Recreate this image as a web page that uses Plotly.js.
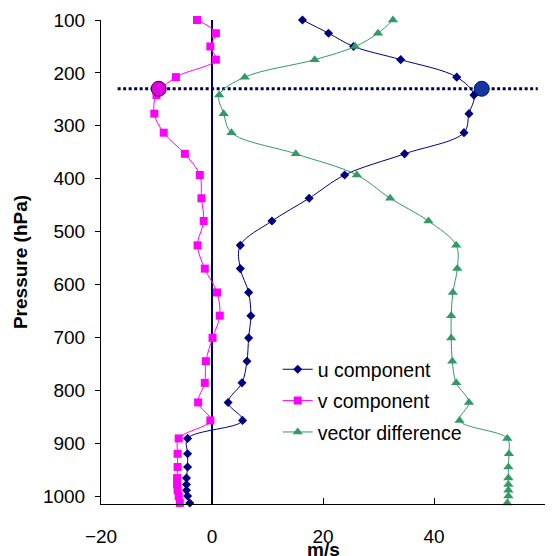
<!DOCTYPE html>
<html>
<head>
<meta charset="utf-8">
<script src="https://cdn.plot.ly/plotly-3.0.1.min.js"></script>
<style>html,body{margin:0;padding:0;background:#fff;}#chart{width:555px;height:556px;}</style>
</head>
<body>
<div id="chart"></div>
<script>
// Pressure levels (hPa)
var pressure = [100, 125, 150, 175, 208, 242, 277, 313, 353, 393, 437, 480, 526, 570, 615, 659, 701, 745, 786, 823, 857, 891, 920, 945, 966, 978, 989, 1000, 1013];
// u component (m/s)
var uComp = [16.3, 21.0, 25.5, 34.0, 44.1, 47.2, 46.3, 45.4, 34.7, 23.9, 17.5, 10.8, 5.1, 5.1, 6.6, 7.0, 6.6, 6.3, 5.4, 2.9, 5.5, -4.4, -4.4, -4.4, -4.6, -4.6, -4.6, -4.4, -4.0];
// v component (m/s)
var vComp = [-2.7, 0.7, -0.3, 0.7, -6.5, -10.0, -10.4, -8.7, -4.9, -2.2, -1.9, -1.5, -2.6, -1.3, 0.9, 1.4, 0.1, -1.1, -1.3, -2.5, -0.3, -6.0, -6.2, -6.2, -6.3, -6.3, -6.2, -6.0, -5.8];
// vector difference (m/s)
var vecDiff = [32.6, 29.9, 25.8, 18.5, 5.9, 1.3, 2.1, 3.5, 15.1, 26.1, 32.1, 39.0, 44.0, 44.2, 43.4, 43.1, 43.1, 43.3, 44.0, 46.3, 44.6, 53.2, 53.5, 53.4, 53.4, 53.4, 53.4, 53.4, 53.2];
// jet level markers
var jetP = [230];
var jetU = [48.6];
var jetV = [-9.6];
// reference lines
var jetLineX = [-17, 58.7];
var xTicks = [-20, 0, 20, 40, 60];
var yTicks = [100, 200, 300, 400, 500, 600, 700, 800, 900, 1000];

var FONT = 'Liberation Sans, Arial, sans-serif';

var traces = [
  {x: uComp, y: pressure, name: 'u component', mode: 'lines+markers', legendgroup: 'a',
   line: {color: '#000080', width: 1, shape: 'spline', smoothing: 1},
   marker: {symbol: 'diamond', size: 7, color: '#000080'}, cliponaxis: false},
  {x: vComp, y: pressure, name: 'v component', mode: 'lines+markers', legendgroup: 'b',
   line: {color: '#FF00FF', width: 1, shape: 'spline', smoothing: 1},
   marker: {symbol: 'square', size: 8, color: '#FF00FF'}, cliponaxis: false},
  {x: vecDiff, y: pressure, name: 'vector difference', mode: 'lines+markers', legendgroup: 'c',
   line: {color: '#339966', width: 1, shape: 'spline', smoothing: 1},
   marker: {symbol: 'triangle-up', size: 9, color: '#339966'}, cliponaxis: false},
  {x: jetV, y: jetP, mode: 'markers', showlegend: false, cliponaxis: false,
   marker: {symbol: 'circle', size: 15, color: '#E000E0', line: {color: '#400040', width: 1}}},
  {x: jetU, y: jetP, mode: 'markers', showlegend: false, cliponaxis: false,
   marker: {symbol: 'circle', size: 15, color: '#1535A0', line: {color: '#001060', width: 1}}}
];

var layout = {
  width: 555, height: 556,
  margin: {l: 101, r: 10, t: 20, b: 52},
  paper_bgcolor: '#fff', plot_bgcolor: '#fff',
  font: {family: FONT, color: '#000', size: 18},
  showlegend: true,
  legend: {x: 0.398, y: 0.318, xanchor: 'left', yanchor: 'top', bgcolor: 'rgba(0,0,0,0)',
           font: {family: FONT, size: 19.5, color: '#000'}, traceorder: 'grouped', tracegroupgap: 3},
  xaxis: {range: [-20, 60], tickvals: xTicks, ticks: 'inside', ticklen: 6, tickcolor: '#000',
          showline: true, linecolor: '#000', linewidth: 1, showgrid: false, zeroline: false,
          tickfont: {family: FONT, size: 19, color: '#000'}, ticklabelstandoff: 15},
  yaxis: {range: [1015, 100], tickvals: yTicks, ticks: 'outside', ticklen: 5, tickcolor: '#000',
          showline: true, linecolor: '#000', linewidth: 1, showgrid: false, zeroline: false,
          tickfont: {family: FONT, size: 19, color: '#000'}, ticklabelstandoff: 6,
          title: {text: '<b>Pressure (hPa)</b>', font: {family: FONT, size: 19, color: '#000'}, standoff: 10}},
  annotations: [
    {text: '<b>m/s</b>', xref: 'paper', yref: 'paper', x: 0.5, y: -0.070, xanchor: 'center', yanchor: 'top',
     showarrow: false, borderpad: 0, font: {family: FONT, size: 19, color: '#000'}}
  ],
  shapes: [
    {type: 'line', xref: 'x', yref: 'paper', x0: 0, x1: 0, y0: 0, y1: 1,
     line: {color: '#000060', width: 2}, layer: 'below'},
    {type: 'line', xref: 'x', yref: 'y', x0: jetLineX[0], x1: jetLineX[1], y0: jetP[0], y1: jetP[0],
     line: {color: '#000050', width: 3, dash: '3px,2.5px'}, layer: 'below'}
  ]
};

Plotly.newPlot('chart', traces, layout, {displayModeBar: false, staticPlot: true});
</script>
</body>
</html>
